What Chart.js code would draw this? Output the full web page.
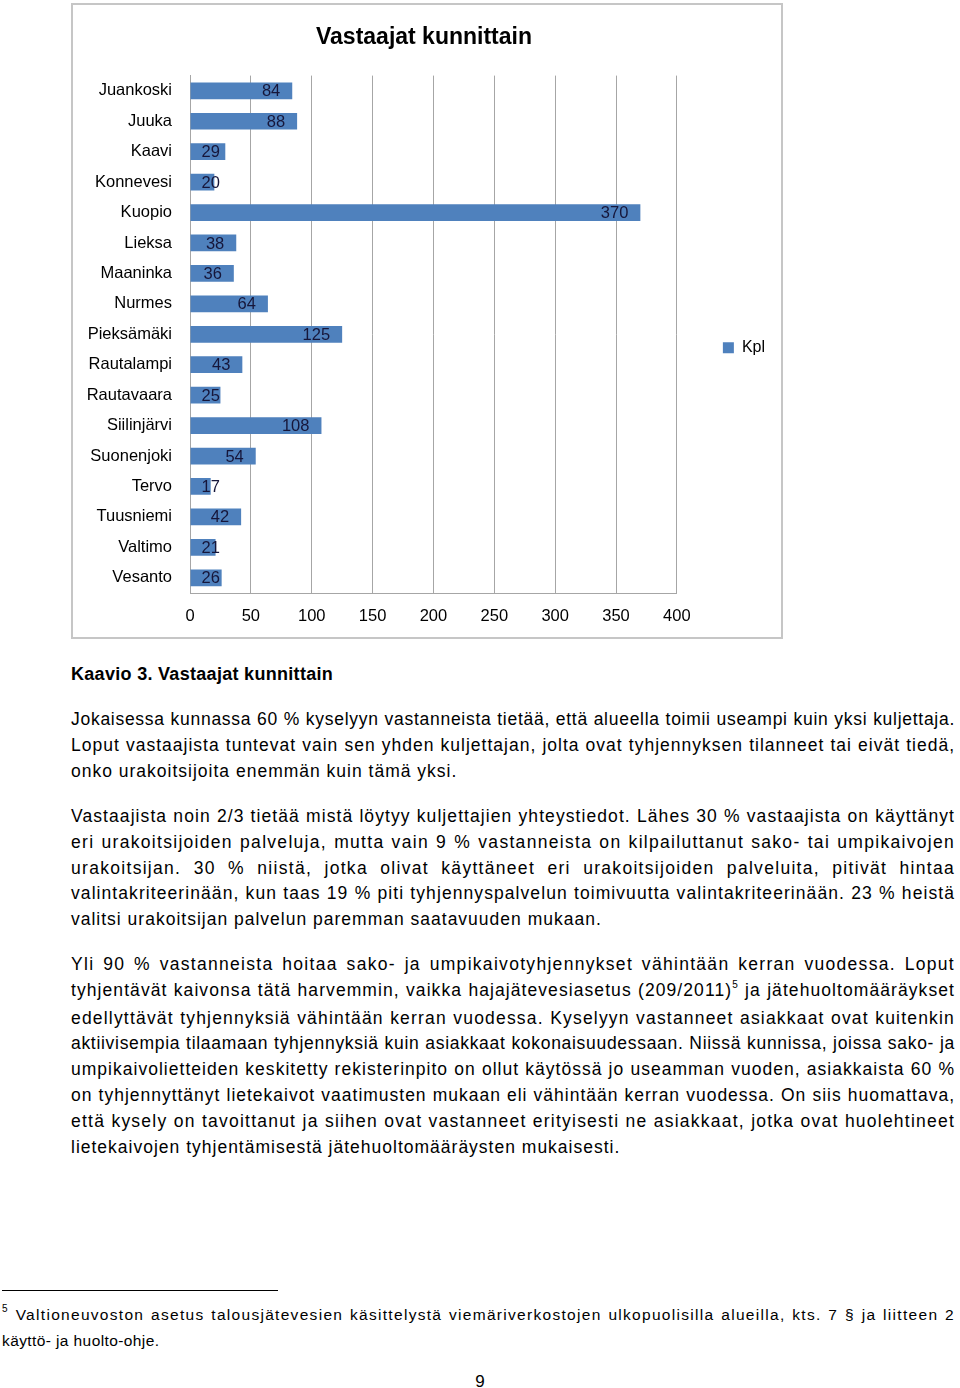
<!DOCTYPE html>
<html>
<head>
<meta charset="utf-8">
<script src="https://cdn.jsdelivr.net/npm/chart.js@4"></script>
<style>
  html,body{margin:0;padding:0;background:#fff;}
  body{width:960px;height:1388px;position:relative;overflow:hidden;font-family:"Liberation Sans",Arial,sans-serif;color:#000;}
  #box{position:absolute;left:71px;top:3px;width:712px;height:636px;border:2px solid #c6c6c6;box-sizing:border-box;}
  #box canvas{display:block;}
  .cap{position:absolute;left:71px;top:661px;font-weight:bold;font-size:18px;line-height:26px;letter-spacing:0.3px;white-space:nowrap;}
  .p{position:absolute;left:71px;width:884px;font-size:17.5px;line-height:25.8px;}
  .l{white-space:nowrap;text-align:justify;text-align-last:justify;}
  .l.last{text-align-last:left;text-align:left;}
  .l.measure{text-align:left;text-align-last:left;}
  sup{font-size:10px;vertical-align:baseline;position:relative;top:-8px;}
  .fnline{position:absolute;left:2px;top:1290px;width:276px;height:0;border-top:1.5px solid #000;}
  .fn{position:absolute;left:2px;top:1303px;width:953px;font-size:15.5px;line-height:24px;}
  .pg{position:absolute;left:0;width:960px;text-align:center;top:1369px;font-size:17px;line-height:26px;}
</style>
</head>
<body>
<div id="box"><canvas id="c" width="708" height="632"></canvas></div>

<div class="cap">Kaavio 3. Vastaajat kunnittain</div>

<div class="p" style="top:707px">
  <div class="l"><span>Jokaisessa kunnassa 60 % kyselyyn vastanneista tietää, että alueella toimii useampi kuin yksi kuljettaja.</span></div>
  <div class="l"><span>Loput vastaajista tuntevat vain sen yhden kuljettajan, jolta ovat tyhjennyksen tilanneet tai eivät tiedä,</span></div>
  <div class="l last"><span>onko urakoitsijoita enemmän kuin tämä yksi.</span></div>
</div>

<div class="p" style="top:804px">
  <div class="l"><span>Vastaajista noin 2/3 tietää mistä löytyy kuljettajien yhteystiedot. Lähes 30 % vastaajista on käyttänyt</span></div>
  <div class="l"><span>eri urakoitsijoiden palveluja, mutta vain 9 % vastanneista on kilpailuttanut sako- tai umpikaivojen</span></div>
  <div class="l"><span>urakoitsijan. 30 % niistä, jotka olivat käyttäneet eri urakoitsijoiden palveluita, pitivät hintaa</span></div>
  <div class="l"><span>valintakriteerinään, kun taas 19 % piti tyhjennyspalvelun toimivuutta valintakriteerinään. 23 % heistä</span></div>
  <div class="l last"><span>valitsi urakoitsijan palvelun paremman saatavuuden mukaan.</span></div>
</div>

<div class="p" style="top:952px">
  <div class="l"><span>Yli 90 % vastanneista hoitaa sako- ja umpikaivotyhjennykset vähintään kerran vuodessa. Loput</span></div>
  <div class="l"><span>tyhjentävät kaivonsa tätä harvemmin, vaikka hajajätevesiasetus (209/2011)<sup>5</sup> ja jätehuoltomääräykset</span></div>
  <div class="l"><span>edellyttävät tyhjennyksiä vähintään kerran vuodessa. Kyselyyn vastanneet asiakkaat ovat kuitenkin</span></div>
  <div class="l"><span>aktiivisempia tilaamaan tyhjennyksiä kuin asiakkaat kokonaisuudessaan. Niissä kunnissa, joissa sako- ja</span></div>
  <div class="l"><span>umpikaivolietteiden keskitetty rekisterinpito on ollut käytössä jo useamman vuoden, asiakkaista 60 %</span></div>
  <div class="l"><span>on tyhjennyttänyt lietekaivot vaatimusten mukaan eli vähintään kerran vuodessa. On siis huomattava,</span></div>
  <div class="l"><span>että kysely on tavoittanut ja siihen ovat vastanneet erityisesti ne asiakkaat, jotka ovat huolehtineet</span></div>
  <div class="l last"><span>lietekaivojen tyhjentämisestä jätehuoltomääräysten mukaisesti.</span></div>
</div>

<div class="fnline"></div>
<div class="fn">
  <div class="l"><span><sup>5</sup> Valtioneuvoston asetus talousjätevesien käsittelystä viemäriverkostojen ulkopuolisilla alueilla, kts. 7 § ja liitteen 2</span></div>
  <div class="l last"><span>käyttö- ja huolto-ohje.</span></div>
</div>

<div class="pg">9</div>

<script>
// ---- Data ----
const categories = ["Juankoski","Juuka","Kaavi","Konnevesi","Kuopio","Lieksa","Maaninka","Nurmes","Pieksämäki","Rautalampi","Rautavaara","Siilinjärvi","Suonenjoki","Tervo","Tuusniemi","Valtimo","Vesanto"];
const kplValues = [84,88,29,20,370,38,36,64,125,43,25,108,54,17,42,21,26];
const seriesName = "Kpl";
const chartTitle = "Vastaajat kunnittain";
const xMin = 0, xMax = 400, xStep = 50;

// ---- Text line justification (PDF-like character spacing) ----
document.querySelectorAll('.l').forEach(div => {
  const span = div.querySelector('span');
  const target = div.clientWidth;
  div.classList.add('measure');
  div.style.letterSpacing = '0px';
  const w = span.getBoundingClientRect().width;
  const n = span.textContent.length;
  div.classList.remove('measure');
  if (div.classList.contains('last')) {
    div.style.letterSpacing = (div.closest('.fn') ? 0.4 : 1.0) + 'px';
  } else {
    const ls = Math.max(0, Math.min(1.3, (target - w - 3) / n));
    div.style.letterSpacing = ls + 'px';
  }
});

// ---- Chart ----
const FONT = '"Liberation Sans", Arial, sans-serif';
const AXIS_FS = 16.5;
const barLabels = {
  id: 'barLabels',
  afterDatasetsDraw(chart) {
    const ctx = chart.ctx;
    const meta = chart.getDatasetMeta(0);
    const data = chart.data.datasets[0].data;
    ctx.save();
    ctx.font = AXIS_FS + 'px ' + FONT;
    ctx.fillStyle = '#16163a';
    ctx.textAlign = 'center';
    ctx.textBaseline = 'middle';
    meta.data.forEach((bar, i) => {
      const t = String(data[i]);
      const w = ctx.measureText(t).width;
      const p = bar.getProps(['x', 'y', 'base'], true);
      const cx = Math.max(p.x - 12 - w / 2, p.base + 11 + w / 2);
      ctx.fillText(t, cx, p.y + 1);
    });
    ctx.restore();
  }
};

new Chart(document.getElementById('c'), {
  type: 'bar',
  data: {
    labels: categories,
    datasets: [{
      label: seriesName,
      data: kplValues,
      backgroundColor: '#4f81bd',
      borderWidth: 0,
      barPercentage: 0.55,
      categoryPercentage: 1.0
    }]
  },
  plugins: [barLabels],
  options: {
    indexAxis: 'y',
    responsive: false,
    animation: false,
    devicePixelRatio: 1,
    layout: { padding: { left: 0, right: 6, top: 0, bottom: 0 } },
    plugins: {
      title: {
        display: true,
        text: chartTitle,
        color: '#000',
        font: { family: FONT, size: 23, weight: 'bold', lineHeight: 1.2 },
        padding: { top: 19, bottom: 24 }
      },
      legend: {
        display: true,
        position: 'right',
        fullSize: false,
        align: 'center',
        title: { display: true, text: ' ', font: { size: 10, lineHeight: 1.2 }, padding: { top: 15, bottom: 0 } },
        labels: {
          boxWidth: 11, boxHeight: 11, padding: 46,
          color: '#000',
          font: { family: FONT, size: 16 }
        }
      },
      tooltip: { enabled: false }
    },
    scales: {
      x: {
        min: xMin, max: xMax,
        ticks: { stepSize: xStep, color: '#000', font: { family: FONT, size: AXIS_FS }, padding: 14 },
        grid: { color: '#a6a6a6', lineWidth: 1, drawTicks: false },
        border: { display: true, color: '#a6a6a6', width: 1 },
        afterFit(axis) { axis.height = 44; }
      },
      y: {
        ticks: { color: '#000', font: { family: FONT, size: AXIS_FS }, padding: 18, autoSkip: false },
        grid: { display: false, drawTicks: false },
        border: { display: true, color: '#a6a6a6', width: 1 },
        afterFit(axis) { axis.width = 117; }
      }
    }
  }
});
</script>
</body>
</html>
